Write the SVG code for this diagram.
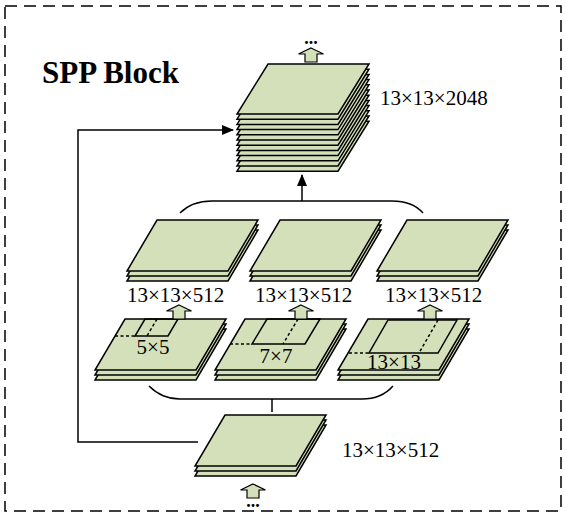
<svg xmlns="http://www.w3.org/2000/svg" xmlns:xlink="http://www.w3.org/1999/xlink" width="566" height="519" viewBox="0 0 566 519">
<style>
.ly{fill:#d4e0b9;stroke:#000;stroke-width:1.5;stroke-linejoin:miter}
.win{fill:none;stroke:#000;stroke-width:1.5}
.dot{fill:none;stroke:#000;stroke-width:1.5;stroke-dasharray:3 2.5}
.ln{fill:none;stroke:#000;stroke-width:1.5}
.ha{fill:#d4e0b9;stroke:#000;stroke-width:1.2}
.t{font-family:"Liberation Serif","Times New Roman",serif;font-size:21px;fill:#000}
.tc{font-family:"Liberation Serif","Times New Roman",serif;font-size:21px;fill:#000;text-anchor:middle}
.dots{font-family:"Liberation Serif",serif;font-size:18px;font-weight:bold;fill:#000;text-anchor:middle}
</style>
<defs>
<path id="lyA" d="M31,0 H132 L101,50 H0 Z"/>
<path id="lyB" d="M30,0 H131 L101,51 H0 Z"/>
<path id="hollow" d="M0,0 L12.5,6 H6 V14 H-6 V6 H-12.5 Z"/>
<marker id="ah" markerWidth="12" markerHeight="10" refX="11" refY="5" orient="auto" markerUnits="userSpaceOnUse">
<path d="M0,0 L12,5 L0,10 Z" fill="#000"/>
</marker>
</defs>
<rect x="5" y="6" width="556" height="505" fill="none" stroke="#000" stroke-width="1.5" stroke-dasharray="12 7"/>
<text id="title" x="42" y="83" font-family="Liberation Serif,Times New Roman,serif" font-size="31" font-weight="bold">SPP Block</text>

<g id="connectors">
<path class="ln" d="M198,442 H78 V130 H233" marker-end="url(#ah)"/>
<path class="ln" d="M180,213 C188,205 198,201 212,201 H392 C406,201 416,205 423,213"/>
<path class="ln" d="M302,201 V175" marker-end="url(#ah)"/>
<path class="ln" d="M149,386 C157,394 166,399 180,399 H362 C376,399 386,394 393,386"/>
<path class="ln" d="M272,399 V412"/>
</g>

<g id="out-stack">
<use href="#lyA" class="ly" transform="translate(237,121.2)"/>
<use href="#lyA" class="ly" transform="translate(237,116)"/>
<use href="#lyA" class="ly" transform="translate(237,110.8)"/>
<use href="#lyA" class="ly" transform="translate(237,105.6)"/>
<use href="#lyA" class="ly" transform="translate(237,100.4)"/>
<use href="#lyA" class="ly" transform="translate(237,95.2)"/>
<use href="#lyA" class="ly" transform="translate(237,90)"/>
<use href="#lyA" class="ly" transform="translate(237,84.8)"/>
<use href="#lyA" class="ly" transform="translate(237,79.6)"/>
<use href="#lyA" class="ly" transform="translate(237,74.4)"/>
<use href="#lyA" class="ly" transform="translate(237,69.2)"/>
<use href="#lyA" class="ly" transform="translate(237,64)"/>
<use href="#hollow" class="ha" transform="translate(311,48)"/>
<text class="dots" x="311" y="44">...</text>
<text class="t" x="380" y="105">13×13×2048</text>
</g>

<g id="pool1-out">
<use href="#lyB" class="ly" transform="translate(127,230)"/>
<use href="#lyB" class="ly" transform="translate(127,225)"/>
<use href="#lyB" class="ly" transform="translate(127,220)"/>
<text class="t" x="127" y="302">13×13×512</text>
</g>
<g id="pool2-out">
<use href="#lyB" class="ly" transform="translate(250,230)"/>
<use href="#lyB" class="ly" transform="translate(250,225)"/>
<use href="#lyB" class="ly" transform="translate(250,220)"/>
<text class="t" x="255" y="302">13×13×512</text>
</g>
<g id="pool3-out">
<use href="#lyB" class="ly" transform="translate(377,230)"/>
<use href="#lyB" class="ly" transform="translate(377,225)"/>
<use href="#lyB" class="ly" transform="translate(377,220)"/>
<text class="t" x="385" y="302">13×13×512</text>
</g>

<g id="pool1">
<use href="#lyB" class="ly" transform="translate(95,329)"/>
<use href="#lyB" class="ly" transform="translate(95,324)"/>
<use href="#lyB" class="ly" transform="translate(95,319)"/>
<path class="win" d="M145,319 H178 L168,336 H135 Z"/>
<path class="dot" d="M115,336 H135 M157,319 L147,336"/>
<text class="tc" x="153" y="354">5×5</text>
<use href="#hollow" class="ha" transform="translate(179,305)"/>
</g>
<g id="pool2">
<use href="#lyB" class="ly" transform="translate(215,329)"/>
<use href="#lyB" class="ly" transform="translate(215,324)"/>
<use href="#lyB" class="ly" transform="translate(215,319)"/>
<path class="win" d="M267,319 H320 L305,344 H252 Z"/>
<path class="dot" d="M230,344 H252 M298,319 L283,344"/>
<text class="tc" x="276" y="363">7×7</text>
<use href="#hollow" class="ha" transform="translate(301,305)"/>
</g>
<g id="pool3">
<use href="#lyB" class="ly" transform="translate(338,329)"/>
<use href="#lyB" class="ly" transform="translate(338,324)"/>
<use href="#lyB" class="ly" transform="translate(338,319)"/>
<path class="win" d="M388,320 H457 L438,353 H369 Z"/>
<path class="dot" d="M349,353 H369 M438,320 L419,353"/>
<text class="tc" x="394" y="369">13×13</text>
<use href="#hollow" class="ha" transform="translate(430,305)"/>
</g>

<g id="input">
<use href="#lyB" class="ly" transform="translate(195,425)"/>
<use href="#lyB" class="ly" transform="translate(195,420)"/>
<use href="#lyB" class="ly" transform="translate(195,415)"/>
<text class="t" x="342" y="457">13×13×512</text>
<use href="#hollow" class="ha" transform="translate(253,484)"/>
<text class="dots" x="253" y="507">...</text>
</g>
</svg>
